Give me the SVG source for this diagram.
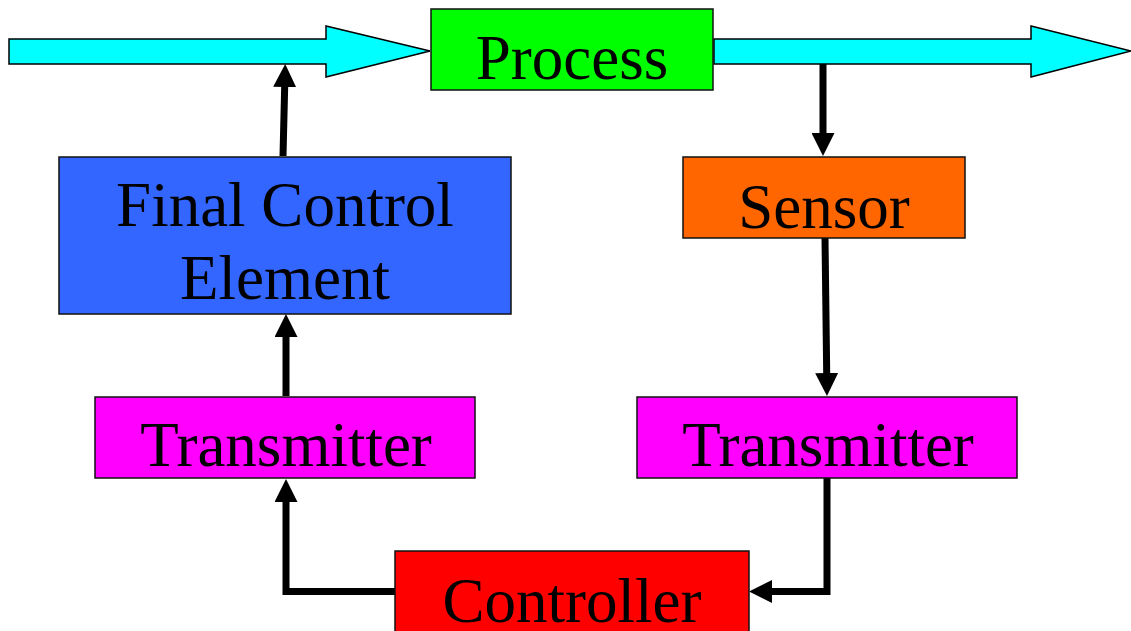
<svg xmlns="http://www.w3.org/2000/svg" width="1131" height="631" viewBox="0 0 1131 631">
<style>
.box{stroke:#111;stroke-width:1.5}
.lbl{font-family:'Liberation Serif','Times New Roman',serif;font-size:63px;fill:#000;text-anchor:middle}
.flow{fill:#00FFFF;stroke:#000;stroke-width:1.5}
.conn{fill:none;stroke:#000;stroke-width:7;stroke-linejoin:miter}
</style>
<defs>
<marker id="ah" viewBox="0 0 23 23" refX="1" refY="11.5" markerWidth="23" markerHeight="23" markerUnits="userSpaceOnUse" orient="auto">
<path d="M0,0 L23,11.5 L0,23 Z" fill="#000"/>
</marker>
</defs>
<g id="flows">
<polygon class="flow" points="9,39 326,39 326,26 430,51 326,77 326,64 9,64"/>
<polygon class="flow" points="714,39 1031,39 1031,26 1131,51 1031,77 1031,64 714,64"/>
</g>
<g id="connectors">
<path class="conn" d="M283,156 L284.7,86" marker-end="url(#ah)"/>
<path class="conn" d="M286,396 L286,336" marker-end="url(#ah)"/>
<path class="conn" d="M395,591.5 L286,591.5 L286,501" marker-end="url(#ah)"/>
<path class="conn" d="M823,64 L823,134" marker-end="url(#ah)"/>
<path class="conn" d="M825,238 L826.7,374" marker-end="url(#ah)"/>
<path class="conn" d="M827,478 L827,591.5 L771,591.5" marker-end="url(#ah)"/>
</g>
<g id="process">
<rect class="box" x="431" y="9" width="282" height="81" fill="#00FF00"/>
<text class="lbl" x="572" y="79">Process</text>
</g>
<g id="final-control-element">
<rect class="box" x="59" y="157" width="452" height="157" fill="#3366FF"/>
<text class="lbl" x="285" y="226">Final Control</text>
<text class="lbl" x="285" y="299">Element</text>
</g>
<g id="sensor">
<rect class="box" x="683" y="157" width="282" height="81" fill="#FF6600"/>
<text class="lbl" x="824" y="228">Sensor</text>
</g>
<g id="transmitter-left">
<rect class="box" x="95" y="397" width="380" height="81" fill="#FF00FF"/>
<text class="lbl" x="286" y="466">Transmitter</text>
</g>
<g id="transmitter-right">
<rect class="box" x="637" y="397" width="380" height="81" fill="#FF00FF"/>
<text class="lbl" x="828" y="466">Transmitter</text>
</g>
<g id="controller">
<rect class="box" x="395" y="551" width="354" height="90" fill="#FF0000"/>
<text class="lbl" x="572" y="622">Controller</text>
</g>
</svg>
